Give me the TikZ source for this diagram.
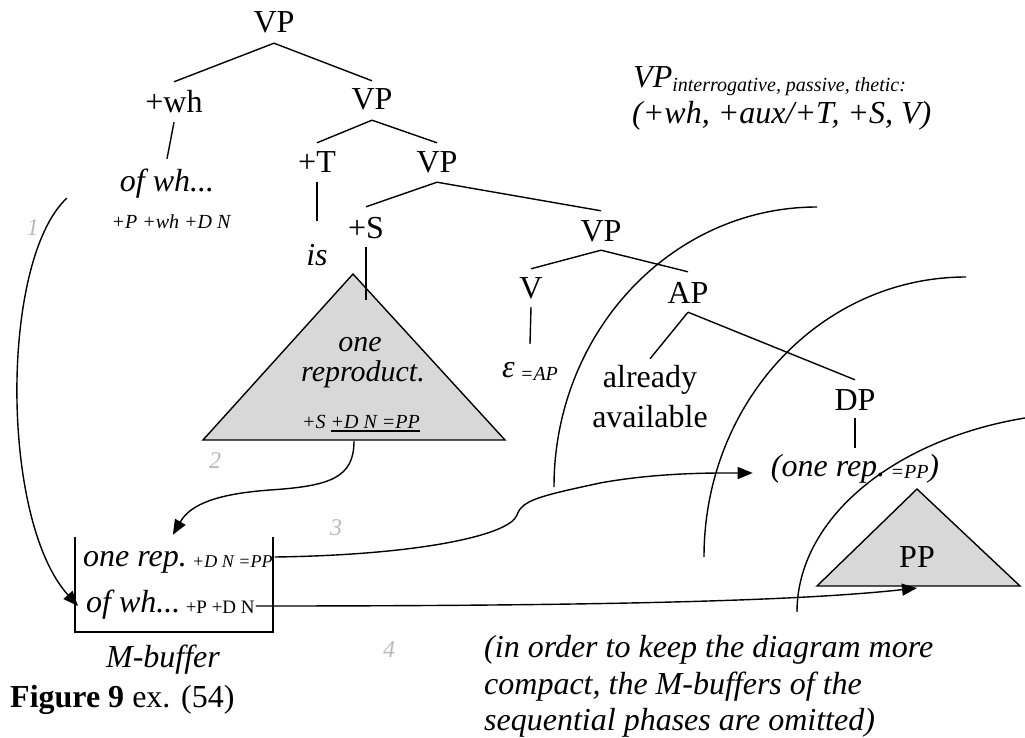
\documentclass[tikz,border=0pt]{standalone}
\usepackage{fontspec}
\setmainfont{Liberation Serif}
\usetikzlibrary{arrows.meta}
\definecolor{trifill}{RGB}{216,216,216}
\definecolor{numgray}{RGB}{185,185,185}
\newcommand\bigfs{\fontsize{32}{37}\selectfont}
\newcommand\midfs{\fontsize{30}{34}\selectfont}
\newcommand\smfs{\fontsize{20}{24}\selectfont}
\newcommand\tinyfs{\fontsize{18}{22}\selectfont}
\newcommand\bsmfs{\fontsize{19}{22}\selectfont}
\newcommand\numfs{\fontsize{24}{28}\selectfont}
\newcommand\myul[1]{\setbox0\hbox{#1}\rlap{\rule[-3.5pt]{\wd0}{1.2pt}}\box0}
\begin{document}
\begin{tikzpicture}[x=1pt,y=-1pt,
  lbl/.style={inner sep=0pt, anchor=base, font=\bigfs},
  ilbl/.style={lbl, font=\bigfs\itshape},
  treeline/.style={line width=1.4pt},
  arr/.style={line width=1.4pt, -{Triangle[length=15pt,width=12pt]}},
  tri/.style={draw, fill=trifill, line width=1.4pt, line join=miter},
  phase/.style={line width=1.4pt},
  num/.style={inner sep=0pt, font=\numfs\itshape, text=numgray},
  feat/.style={inner sep=0pt, anchor=base, font=\smfs\itshape}]
\useasboundingbox (0,0) rectangle (1025,738);

% phase arcs
\draw[phase] (554,487) .. controls (554,332) and (672,207) .. (817,207);
\draw[phase] (704,557) .. controls (704,402) and (821,277) .. (966,277);
\draw[phase] (797,612) arc[start angle=180, end angle=256, x radius=301, y radius=200];

% triangles
\path[tri] (353,274) -- (505,440) -- (203,440) -- cycle;
\path[tri] (917,489) -- (1020,586) -- (817,586) -- cycle;

% tree nodes
\node[lbl, text depth=10pt] (vp1) at (274,33) {VP};
\node[lbl, text height=31pt, text depth=9pt] (wh) at (174,113) {+wh};
\node[lbl, text height=29pt, text depth=10pt] (vp2) at (372,110) {VP};
\node[ilbl, text height=33pt] (ofwh) at (167,192) {of wh...};
\node[feat] (f1) at (171,229) {+P +wh +D N};
\node[lbl, text height=30pt, text depth=9pt] (tT) at (317,173) {+T};
\node[ilbl, text height=44pt] (is) at (317,265) {is};
\node[lbl, text height=30pt, text depth=9pt] (vp3) at (437,173) {VP};
\node[lbl, text height=31pt, text depth=9pt] (sS) at (366,238) {+S};
\node[lbl, text height=30pt, text depth=9pt] (vp4) at (601,241) {VP};
\node[lbl, text height=29pt, text depth=9pt] (vV) at (531,298) {V};
\node[lbl, text height=33pt] (eps) at (530,377) {\itshape ε\,\raisebox{-3pt}{\smfs =AP}};
\node[lbl, text height=31pt, text depth=9pt] (AP) at (688,303) {AP};
\node[lbl, text height=28pt] (already) at (650,387) {already};
\node[lbl] (avail) at (650,427) {available};
\node[lbl, text height=30pt, text depth=8pt] (DP) at (855,410) {DP};
\node[ilbl, text height=28pt] (onerep) at (855,476) {(one rep.\,\raisebox{-2pt}{\smfs =PP})};

\node[lbl, font=\midfs\itshape] (one) at (360,351) {one};
\node[lbl, font=\midfs\itshape] (repr) at (363,381) {reproduct.};
\node[feat] (f2) at (361,428) {+S \myul{+D N =PP}};
\node[lbl] (pp) at (917,567) {PP};

\coordinate (sSend) at (366,300);
\coordinate (a1s) at (67,198);
\coordinate (t1b) at (354,441);
\coordinate (t2b) at (917,588);

% tree lines
\draw[treeline] (vp1.south) -- (wh.north);
\draw[treeline] (vp1.south) -- (vp2.north);
\draw[treeline] (wh.south) -- (ofwh.north);
\draw[treeline] (vp2.south) -- (tT.north);
\draw[treeline] (vp2.south) -- (vp3.north);
\draw[treeline] (tT.south) -- (is.north);
\draw[treeline] (vp3.south) -- (sS.north);
\draw[treeline] (vp3.south) -- (vp4.north);
\draw[treeline] (sS.south) -- (sSend);
\draw[treeline] (vp4.south) -- (vV.north);
\draw[treeline] (vp4.south) -- (AP.north);
\draw[treeline] (vV.south) -- (eps.north);
\draw[treeline] (AP.south) -- (already.north);
\draw[treeline] (AP.south) -- (DP.north);
\draw[treeline] (DP.south) -- (onerep.north);

% buffer
\draw[treeline] (75,537) -- (75,632) -- (273,632) -- (273,537);
\node[ilbl, anchor=base west, text height=31pt] (buf1) at (83,566) {one rep.\,\raisebox{-1pt}{\tinyfs +D N =PP}};
\node[ilbl, anchor=base west, text height=12pt, text depth=0pt] (buf2) at (86,612) {of wh...\,\raisebox{-1pt}{\bsmfs\upshape +P +D N}};
\node[ilbl] (mbuf) at (163,667) {M-buffer};

% arrows
\draw[arr] (a1s) .. controls (0,260) and (0,520) .. ([xshift=-8pt]buf2.west);
\draw[arr] (t1b) .. controls (354,478) and (330,486) .. (270,490) .. controls (215,494) and (190,505) .. ([xshift=-5pt]buf1.north);
\draw[arr] ([xshift=2pt,yshift=9pt]buf1.base east) .. controls (420,555) and (510,535) .. (517,515) .. controls (522,500) and (540,496) .. (600,483) .. controls (660,472) and (720,473) .. ([xshift=-18pt,yshift=3pt]onerep.base west);
\draw[arr] ([xshift=1pt]buf2.east) .. controls (600,606) and (800,601) .. (t2b);

% numbers
\node[num] (num1) at (33,228) {1};
\node[num] (num2) at (215,461) {2};
\node[num] (num3) at (336,528) {3};
\node[num] (num4) at (389,650) {4};

% texts
\node[ilbl, anchor=base west] (vpt1) at (633,88) {VP\raisebox{-4pt}{\smfs interrogative, passive, thetic:}};
\node[ilbl, anchor=base west] (vpt2) at (632,124) {(+wh, +aux/+T, +S, V)};
\node[lbl, anchor=base west] (cap) at (10,707) {\bfseries Figure 9\mdseries{} ex. (54)};
\node[ilbl, anchor=base west] (note1) at (484,657) {(in order to keep the diagram more};
\node[ilbl, anchor=base west] (note2) at (484,694) {compact, the M-buffers of the};
\node[ilbl, anchor=base west] (note3) at (484,730) {sequential phases are omitted)};
\end{tikzpicture}
\end{document}
